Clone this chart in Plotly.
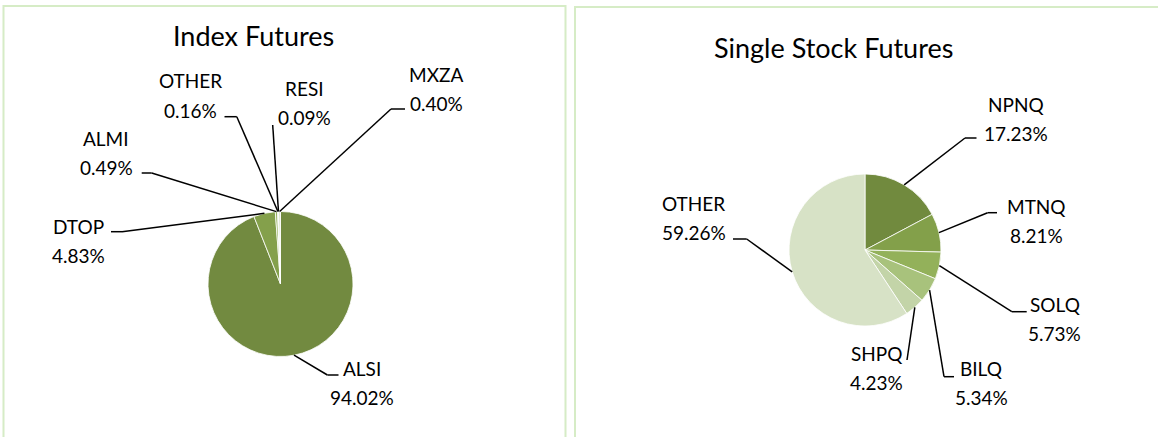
import plotly.graph_objects as go

W, H = 1158, 437

# ---- data -------------------------------------------------------------
index_labels = ["ALSI", "DTOP", "ALMI", "OTHER", "RESI", "MXZA"]
index_values = [94.02, 4.83, 0.49, 0.16, 0.09, 0.40]
index_colors = ["#728a40", "#84a04b", "#95b15e", "#a8c27e", "#c3d4a7", "#d7e2c6"]

stock_labels = ["NPNQ", "MTNQ", "SOLQ", "BILQ", "SHPQ", "OTHER"]
stock_values = [17.23, 8.21, 5.73, 5.34, 4.23, 59.26]
stock_colors = ["#718a3e", "#83a04a", "#93b15a", "#a8c27c", "#c3d4a8", "#d7e2c6"]

# ---- layout (pixel positions) ------------------------------------------
# pie centre and radius in px
index_pie = dict(cx=280.5, cy=284, r=72.5)
stock_pie = dict(cx=865, cy=250, r=76)

# label centre, then the outer end and elbow of the leader line
index_lbl = {
    "ALSI": ((362, 383), (338.5, 375), (327.4, 375)),
    "DTOP": ((78, 240.5), (111, 231.7), (122, 231.7)),
    "ALMI": ((106, 152.5), (141.7, 173), (151.7, 173)),
    "OTHER": ((190, 95.5), (224.5, 116.7), (236.8, 116.7)),
    "RESI": ((304, 103), (272.7, 125), (272.7, 125)),
    "MXZA": ((436, 88.5), (405, 109), (391, 109)),
}
stock_lbl = {
    "NPNQ": ((1016, 119), (976.5, 138), (965, 138)),
    "MTNQ": ((1036, 221), (997, 212.7), (987.6, 212.7)),
    "SOLQ": ((1054.6, 319), (1026.7, 311.7), (1011.8, 311.7)),
    "BILQ": ((981, 382.5), (954, 376.7), (944, 376.7)),
    "SHPQ": ((876, 368), (907, 360), (907, 360)),
    "OTHER": ((694, 218), (733, 239), (746.7, 239)),
}

FONT = "Lato, Calibri, Carlito, sans-serif"
LBL_SIZE = 19
LINE_GAP = 29


def px(x):
    return x / W


def py(y):
    return 1 - y / H


def domain(p):
    return dict(x=[px(p["cx"] - p["r"]), px(p["cx"] + p["r"])],
                y=[py(p["cy"] + p["r"]), py(p["cy"] - p["r"])])


def mid_points(values, p):
    """slice mid-points on the rim, clockwise from 12 o'clock"""
    import math
    tot = sum(values)
    out, acc = [], 0.0
    for v in values:
        a = (acc + v / 2) / tot * 2 * math.pi
        out.append((p["cx"] + p["r"] * math.sin(a), p["cy"] - p["r"] * math.cos(a)))
        acc += v
    return out


fig = go.Figure()
for labels, values, colors, p in [(index_labels, index_values, index_colors, index_pie),
                                  (stock_labels, stock_values, stock_colors, stock_pie)]:
    fig.add_trace(go.Pie(
        labels=labels, values=values, sort=False, direction="clockwise",
        rotation=0, textinfo="none", domain=domain(p),
        marker=dict(colors=colors, line=dict(color="white", width=0.8)),
        showlegend=False, hoverinfo="label+percent",
    ))

shapes, annots = [], []
for labels, values, lbl, p in [(index_labels, index_values, index_lbl, index_pie),
                               (stock_labels, stock_values, stock_lbl, stock_pie)]:
    pts = mid_points(values, p)
    for name, v, inner in zip(labels, values, pts):
        (tx, ty), outer, elbow = lbl[name]
        for a, b in [(outer, elbow), (elbow, inner)]:
            if a == b:
                continue
            shapes.append(dict(type="line", xref="paper", yref="paper",
                               x0=px(a[0]), y0=py(a[1]), x1=px(b[0]), y1=py(b[1]),
                               line=dict(color="black", width=1.5)))
        for txt, yy in [(name, ty - LINE_GAP / 2), (f"{v:.2f}%", ty + LINE_GAP / 2)]:
            annots.append(dict(text=txt, x=px(tx), y=py(yy), xref="paper", yref="paper",
                               xanchor="center", yanchor="middle", showarrow=False,
                               font=dict(size=LBL_SIZE, color="black", family=FONT)))

# chart titles
annots.append(dict(text="Index Futures", x=px(253), y=py(36), xref="paper", yref="paper",
                   showarrow=False, xanchor="center", yanchor="middle",
                   font=dict(size=27, color="black", family=FONT)))
annots.append(dict(text="Single Stock Futures", x=px(833), y=py(48), xref="paper",
                   yref="paper", showarrow=False, xanchor="center", yanchor="middle",
                   font=dict(size=27, color="black", family=FONT)))

# panel frames
BORDER = "#d6ecc6"
shapes.append(dict(type="rect", xref="paper", yref="paper", x0=px(3.5), x1=px(565.5),
                   y0=py(445), y1=py(6), line=dict(color=BORDER, width=2)))
shapes.append(dict(type="rect", xref="paper", yref="paper", x0=px(575), x1=px(1170),
                   y0=py(445), y1=py(7), line=dict(color=BORDER, width=2)))

fig.update_layout(
    width=W, height=H, margin=dict(l=0, r=0, t=0, b=0),
    paper_bgcolor="white", plot_bgcolor="white",
    shapes=shapes, annotations=annots,
    font=dict(family=FONT, color="black"),
)
fig.write_html("out.html", config={"displayModeBar": False},
               post_script="document.body.style.margin='0';"
                           "document.body.style.overflow='hidden';")
